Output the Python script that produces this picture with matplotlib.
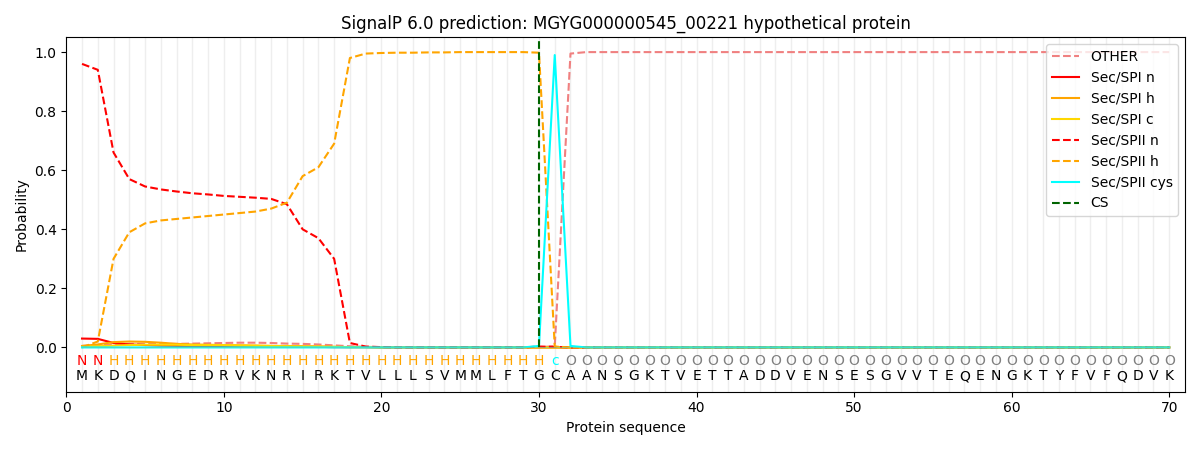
import numpy as np
import matplotlib
matplotlib.use("Agg")
import matplotlib.pyplot as plt

# sequence and predicted region labels
sequence = "MKDQINGEDRVKNRIRKTVLLLSVMMLFTGCAANSGKTVETTADDVENSESGVVTEQENGKTYFVFQDVK"
regions = "NN" + "H" * 28 + "c" + "O" * 39

n_pos = len(sequence)
pos = np.arange(1, n_pos + 1)

# probabilities (first 32 positions, rest flat)
other_head = [0.005, 0.008, 0.01, 0.012, 0.012, 0.012, 0.012, 0.013, 0.014, 0.015,
              0.016, 0.016, 0.015, 0.013, 0.012, 0.01, 0.007, 0.004, 0.002, 0.001,
              0.001, 0.001, 0.001, 0.001, 0.001, 0.001, 0.001, 0.001, 0.001, 0.001,
              0.004, 0.995]
spi_n_head = [0.03, 0.029, 0.015, 0.01, 0.008, 0.006, 0.005, 0.004, 0.004, 0.003,
              0.003, 0.003, 0.002, 0.002, 0.002, 0.002, 0.001, 0.001, 0.001, 0.0]
spi_h_head = [0.005, 0.01, 0.018, 0.02, 0.019, 0.016, 0.012, 0.01, 0.009, 0.008,
              0.007, 0.006, 0.005, 0.005, 0.004, 0.003, 0.002, 0.001, 0.001, 0.0]
spi_c_head = [0.002, 0.004, 0.006, 0.008, 0.009, 0.009, 0.009, 0.008, 0.008, 0.008,
              0.007, 0.006, 0.005, 0.004, 0.003, 0.003, 0.002, 0.001, 0.001, 0.0]
spii_n_head = [0.96, 0.94, 0.66, 0.57, 0.545, 0.535, 0.528, 0.522, 0.518, 0.513,
               0.51, 0.507, 0.503, 0.485, 0.40, 0.37, 0.30, 0.015, 0.003, 0.001,
               0.0, 0.0, 0.0, 0.0, 0.0, 0.0, 0.0, 0.0, 0.0, 0.003, 0.002, 0.0]
spii_h_head = [0.0, 0.02, 0.30, 0.39, 0.42, 0.43, 0.435, 0.44, 0.445, 0.45,
               0.455, 0.46, 0.47, 0.49, 0.58, 0.61, 0.69, 0.98, 0.995, 0.997,
               0.998, 0.998, 0.999, 0.999, 1.0, 1.0, 1.0, 1.0, 1.0, 0.998, 0.003, 0.0]
spii_cys_head = [0.0] * 29 + [0.005, 0.99, 0.005]

def pad(head, fill):
    return np.array(list(head) + [fill] * (n_pos - len(head)))

other = pad(other_head, 1.0)
spi_n = pad(spi_n_head, 0.0)
spi_h = pad(spi_h_head, 0.0)
spi_c = pad(spi_c_head, 0.0)
spii_n = pad(spii_n_head, 0.0)
spii_h = pad(spii_h_head, 0.0)
spii_cys = pad(spii_cys_head, 0.0)

cs_pos = 30

region_colors = {"N": "red", "H": "orange", "c": "cyan", "O": "gray"}

fig, ax = plt.subplots(figsize=(12, 4.5), dpi=100)

for x in pos:
    ax.axvline(x, color="#eeeeee", lw=1, zorder=0)

ax.plot(pos, other, "--", color="#f08080", label="OTHER")
ax.plot(pos, spi_n, "-", color="red", label="Sec/SPI n")
ax.plot(pos, spi_h, "-", color="orange", label="Sec/SPI h")
ax.plot(pos, spi_c, "-", color="gold", label="Sec/SPI c")
ax.plot(pos, spii_n, "--", color="red", label="Sec/SPII n")
ax.plot(pos, spii_h, "--", color="orange", label="Sec/SPII h")
ax.plot(pos, spii_cys, "-", color="cyan", label="Sec/SPII cys")
ax.plot(pos, np.zeros(n_pos), "-", color="#66cdaa", lw=0.8, alpha=0.6)
ax.plot([cs_pos, cs_pos], [0, 1.04], "--", color="darkgreen", label="CS")

for x, aa, reg in zip(pos, sequence, regions):
    ax.text(x, -0.047, reg, color=region_colors[reg], ha="center", va="center", fontsize=10)
    ax.text(x, -0.098, aa, color="black", ha="center", va="center", fontsize=10)

ax.set_xlim(0, 71)
ax.set_ylim(-0.15, 1.05)
ax.set_xlabel("Protein sequence")
ax.set_ylabel("Probability")
ax.set_title("SignalP 6.0 prediction: MGYG000000545_00221 hypothetical protein")
ax.legend(loc="upper right")

plt.tight_layout()
plt.savefig("out.png")
